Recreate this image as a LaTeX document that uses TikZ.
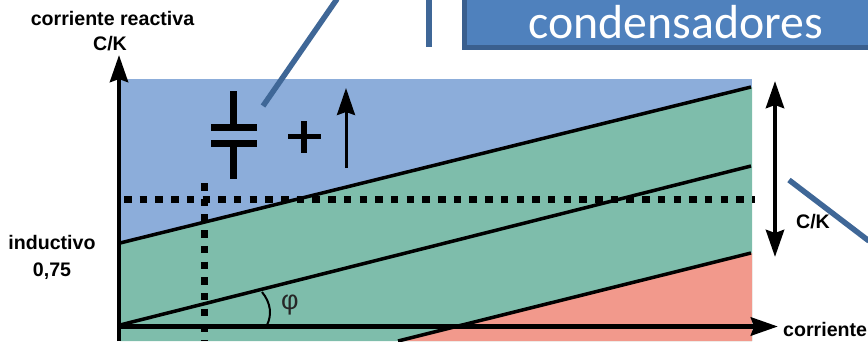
\documentclass[tikz,border=0pt]{standalone}
\usepackage{fontspec}
\setmainfont{Liberation Sans}
\newfontfamily\titlefont{Carlito}
\usetikzlibrary{arrows.meta}
\definecolor{blueZone}{HTML}{8CADDA}
\definecolor{greenZone}{HTML}{7EBDAB}
\definecolor{redZone}{HTML}{F2998C}
\definecolor{boxFill}{HTML}{4F81BD}
\definecolor{boxEdge}{HTML}{3A5F8E}
\definecolor{calloutLine}{HTML}{3F6797}
\tikzset{
  axisline/.style={-{Stealth[length=27pt,width=18pt,inset=3pt]}},
  slope/.style={line width=3.5pt},
  dotline/.style={line width=7.5pt,dash pattern=on 7.5pt off 8.2pt},
  symbolbar/.style={line width=7pt},
  callout/.style={line width=5.5pt,calloutLine},
  lbl/.style={font=\fontsize{19.6}{22}\selectfont\bfseries,text=black,inner sep=0pt,align=center}
}
\begin{document}
\begin{tikzpicture}[x=1pt,y=-1pt]
\useasboundingbox (0,0) rectangle (868,341);
\begin{scope}
\clip (0,0) rectangle (868,341);
% zones
\fill[blueZone] (120,79) rectangle (752,341);
\fill[greenZone] (120,243) -- (752,87) -- (752,341) -- (120,341) -- cycle;
\fill[redZone] (398,341) -- (752,253) -- (752,341) -- cycle;
% slope lines
\coordinate (s1a) at (120,243); \coordinate (s1b) at (751,87);
\coordinate (s2a) at (120,325); \coordinate (s2b) at (751,166);
\coordinate (s3a) at (398,341); \coordinate (s3b) at (751,253);
\draw[slope] (s1a) -- (s1b);
\draw[slope] (s2a) -- (s2b);
\draw[slope] (s3a) -- (s3b);
% dotted
\coordinate (dha) at (124,199.5); \coordinate (dhb) at (755,199.5);
\coordinate (dva) at (204.5,183); \coordinate (dvb) at (204.5,341);
\draw[dotline] (dha) -- (dhb);
\draw[dotline] (dva) -- (dvb);
% axes
\coordinate (yaxisa) at (119,341); \coordinate (yaxisb) at (119,55);
\coordinate (xaxisa) at (118,326.5); \coordinate (xaxisb) at (778,326.5);
\draw[axisline,line width=4.5pt] (yaxisa) -- (yaxisb);
\draw[axisline,line width=5pt] (xaxisa) -- (xaxisb);
% angle
\coordinate (anga) at (262,292); \coordinate (angb) at (267,325);
\draw[line width=2pt] (anga) .. controls (271,303) and (272,315) .. (angb);
\node[font=\fontsize{27}{27}\selectfont,inner sep=0pt,text=black!85] (phi) at (290,305) {φ};
% capacitor
\coordinate (c1) at (233.5,91); \coordinate (c2) at (233.5,127);
\coordinate (c3) at (233.5,143); \coordinate (c4) at (233.5,179);
\draw[symbolbar] (c1) -- (c2);
\draw[symbolbar] (c3) -- (c4);
\coordinate (p1a) at (211,127.5); \coordinate (p1b) at (257,127.5);
\coordinate (p2a) at (211,143); \coordinate (p2b) at (257,143);
\draw[symbolbar] (p1a) -- (p1b);
\draw[symbolbar] (p2a) -- (p2b);
% plus
\coordinate (pa) at (288,136.5); \coordinate (pb) at (321,136.5);
\coordinate (pc) at (304,121); \coordinate (pd) at (304,153);
\draw[line width=5.5pt] (pa) -- (pb);
\draw[line width=5.5pt] (pc) -- (pd);
% small arrow
\coordinate (ua) at (346,168); \coordinate (ub) at (346,88);
\draw[line width=3pt,-{Stealth[length=27pt,width=18pt,inset=3pt]}] (ua) -- (ub);
% double arrow
\coordinate (da) at (775,81); \coordinate (db) at (775,257);
\draw[line width=4.5pt,{Stealth[length=27pt,width=18pt,inset=3pt]}-{Stealth[length=27pt,width=18pt,inset=3pt]}] (da) -- (db);
% callouts
\coordinate (k1a) at (263,106); \coordinate (k1b) at (337,-1);
\coordinate (k2a) at (789,180); \coordinate (k2b) at (869,241);
\coordinate (k3a) at (429,-1); \coordinate (k3b) at (429,46.5);
\draw[callout] (k1a) -- (k1b);
\draw[callout] (k3a) -- (k3b);
% title box
\node[draw=boxEdge,fill=boxFill,line width=5pt,minimum width=425pt,minimum height=60pt,anchor=north west,inner sep=0pt,outer sep=0pt] (tbox) at (464.5,-13) {};
\node[text=white,font=\titlefont\fontsize{47.8}{48}\selectfont,inner sep=0pt,anchor=base] (ttext) at (676,38) {condensadores};
% labels
\node[lbl,anchor=base] (l1) at (112.5,25) {corriente reactiva};
\node[lbl,anchor=base] (l2) at (110,50) {C/K};
\node[lbl,anchor=base] (l3) at (52,249) {inductivo};
\node[lbl,anchor=base] (l4) at (52,276) {0,75};
\node[lbl,anchor=base] (l5) at (813,228) {C/K};
\node[lbl,anchor=base west] (l6) at (783,336.5) {corriente};
\draw[callout] (k2a) -- (k2b);
\end{scope}
\end{tikzpicture}
\end{document}
